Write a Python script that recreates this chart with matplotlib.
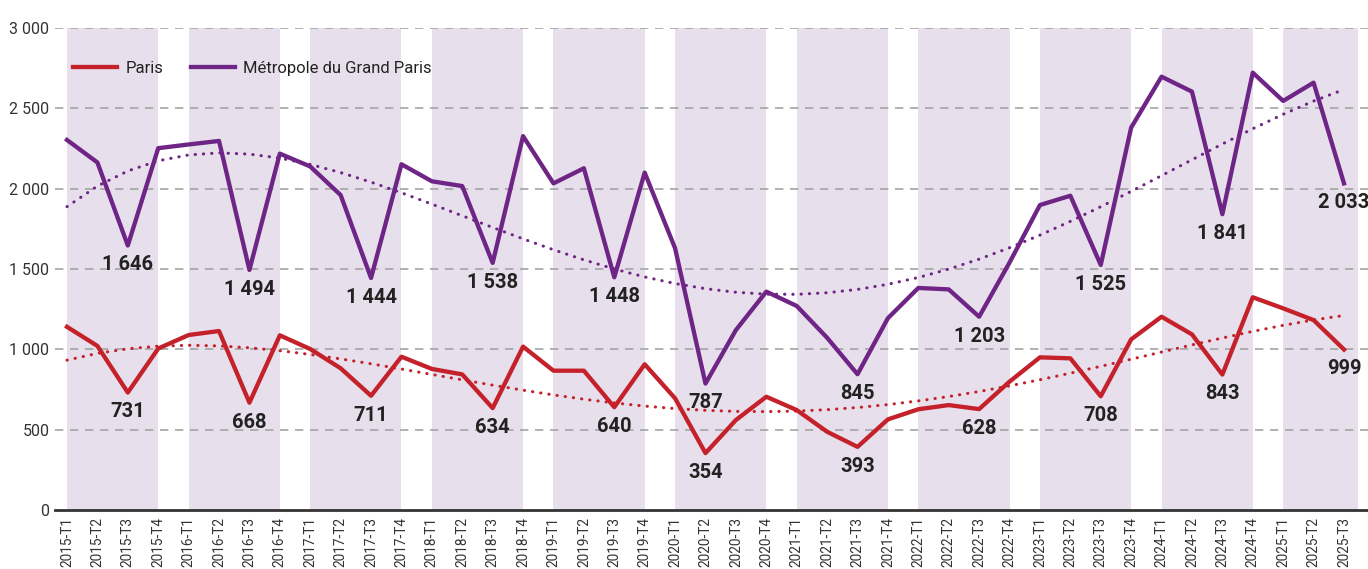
import numpy as np
import matplotlib
matplotlib.use("Agg")
import matplotlib.pyplot as plt

plt.rcParams['font.family'] = ['Roboto', 'DejaVu Sans']

# quarters 2015-T1 .. 2025-T3
years = list(range(2015, 2026))
quarters = [f"{y}-T{q}" for y in years for q in range(1, 5)][:43]

paris = [1140, 1021, 731, 1005, 1089, 1114, 668, 1087, 1002, 882, 711, 954,
         878, 844, 634, 1017, 867, 867, 640, 907, 695, 354, 560, 705,
         622, 487, 393, 564, 627, 653, 628, 799, 950, 944, 708, 1062,
         1203, 1093, 843, 1324, 1255, 1182, 999]

metropole = [2303, 2163, 1646, 2252, 2275, 2297, 1494, 2218, 2138, 1960, 1444, 2152,
             2046, 2016, 1538, 2327, 2033, 2127, 1448, 2100, 1629, 787, 1120, 1359,
             1270, 1072, 845, 1194, 1382, 1373, 1203, 1540, 1898, 1956, 1525, 2380,
             2697, 2604, 1841, 2722, 2546, 2660, 2033]

# points that carry a value label
labelled = [2, 6, 10, 14, 18, 21, 26, 30, 34, 38, 42]

RED = '#C4212A'
PURPLE = '#6E2585'
BAND = '#E7E0EC'
TEXT = '#222222'

x = np.arange(len(quarters))

fig = plt.figure(figsize=(13.68, 5.69), dpi=100)
ax = fig.add_axes([0.0402, 0.1037, 0.9598, 0.8471])

# each year shaded from T1 to T4
for k, y in enumerate(years):
    start = 4 * k
    end = min(4 * k + 3, len(quarters) - 1 + 0.46)
    ax.axvspan(start, end, color=BAND, lw=0, zorder=0)

for yv in [500, 1000, 1500, 2000, 2500, 3000]:
    ax.axhline(yv, color='#A3A3A3', lw=1.2, ls=(0, (5, 4)), zorder=1)

# polynomial trend lines (order 4)
for series, col in [(paris, RED), (metropole, PURPLE)]:
    coef = np.polyfit(x, series, 4)
    ax.plot(x, np.polyval(coef, x), color=col, lw=2.2, ls=(0, (0.1, 2.6)),
            dash_capstyle='round', zorder=2)

ax.plot(x, paris, color=RED, lw=3.1, label='Paris', zorder=3)
ax.plot(x, metropole, color=PURPLE, lw=3.1, label='Métropole du Grand Paris', zorder=3)

for series in [paris, metropole]:
    for i in labelled:
        txt = f"{series[i]:,}".replace(',', ' ')
        ax.annotate(txt, (x[i], series[i]), xytext=(0, -14), textcoords='offset points',
                    ha='center', va='center', fontsize=14.5, fontweight='bold', color=TEXT,
                    zorder=4)

ax.set_xlim(-0.395, 42.79)
ax.set_ylim(0, 3000)
ax.set_yticks([0, 500, 1000, 1500, 2000, 2500, 3000])
ax.set_yticklabels(['0', '500', '1 000', '1 500', '2 000', '2 500', '3 000'])
ax.set_xticks(x)
ax.set_xticklabels(quarters, rotation=90)
ax.tick_params(axis='y', length=0, pad=4, labelsize=11.5, labelcolor='#333333')
ax.tick_params(axis='x', length=0, pad=5, labelsize=9.8, labelcolor='#333333')

for s in ['top', 'right', 'left']:
    ax.spines[s].set_visible(False)
ax.spines['bottom'].set_color('#333333')
ax.spines['bottom'].set_linewidth(2)
ax.spines['bottom'].set_zorder(5)

leg = ax.legend(loc='center left', ncol=2, frameon=False, fontsize=12,
                bbox_to_anchor=(0.009, 0.917), borderaxespad=0, handlelength=2.6,
                handletextpad=0.5, columnspacing=1.7)
for t in leg.get_texts():
    t.set_color(TEXT)

fig.savefig('out.png', dpi=100)
